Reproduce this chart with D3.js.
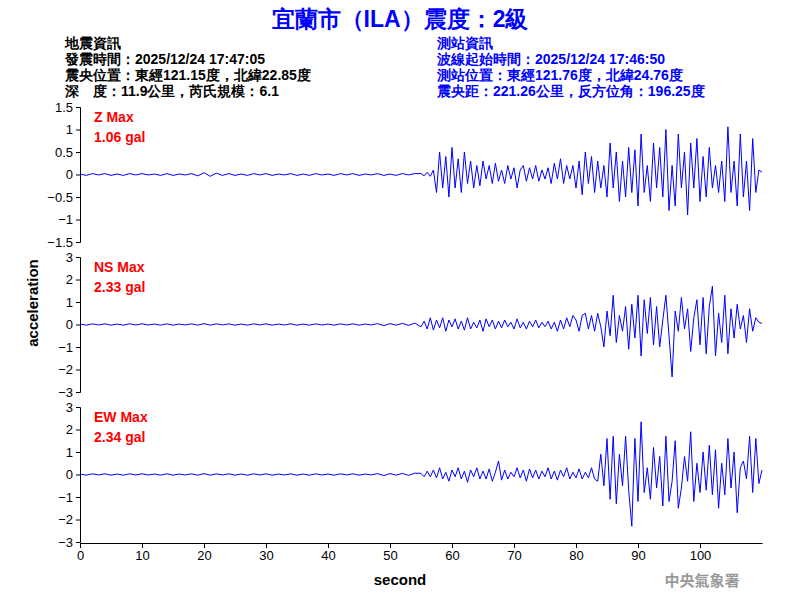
<!DOCTYPE html>
<html><head><meta charset="utf-8">
<script src="https://cdn.jsdelivr.net/npm/d3@7"></script>
<style>body{margin:0;background:#fff}text{font-family:Arial,"Liberation Sans",sans-serif}</style>
</head><body>
<script>
"use strict";
// quiet part: t = 0..54, 1 s step
var zPre = [0.01,-0.02,0.02,-0.01,0.02,-0.02,0.01,-0.02,0.02,-0.01,0.02,-0.01,0.01,-0.02,0.02,-0.02,0.01,-0.01,0.02,-0.03,0.04,-0.04,0.03,-0.02,0.02,-0.02,0.01,-0.02,0.02,-0.01,0.02,-0.02,0.01,-0.01,0.02,-0.02,0.01,-0.02,0.02,-0.01,0.01,-0.02,0.02,-0.01,0.02,-0.02,0.01,-0.01,0.02,-0.02,0.01,-0.02,0.02,-0.01,0.02];
var nsPre = [0.02,-0.03,0.03,-0.02,0.03,-0.03,0.02,-0.03,0.03,-0.02,0.03,-0.02,0.02,-0.03,0.03,-0.03,0.02,-0.02,0.03,-0.03,0.04,-0.03,0.03,-0.02,0.03,-0.03,0.02,-0.03,0.03,-0.02,0.03,-0.03,0.02,-0.02,0.03,-0.03,0.02,-0.03,0.03,-0.02,0.02,-0.03,0.03,-0.02,0.03,-0.03,0.02,-0.02,0.04,-0.05,0.04,-0.03,0.05,-0.04,0.06];
var ewPre = [0.02,-0.03,0.03,-0.02,0.03,-0.03,0.02,-0.03,0.03,-0.02,0.03,-0.02,0.02,-0.03,0.03,-0.03,0.02,-0.02,0.03,-0.03,0.04,-0.03,0.03,-0.02,0.03,-0.03,0.02,-0.03,0.03,-0.02,0.03,-0.03,0.02,-0.02,0.03,-0.03,0.02,-0.03,0.03,-0.02,0.02,-0.03,0.03,-0.02,0.03,-0.03,0.02,-0.02,0.04,-0.05,0.04,-0.03,0.05,-0.04,0.06];
// active part: t = 55..110, 0.5 s step
var zPost = [0.02,-0.03,0.05,-0.04,0.1,-0.4,0.5,-0.3,0.4,-0.5,
  0.6,-0.3,0.35,-0.4,0.5,-0.2,0.3,-0.3,0.2,-0.25,
  0.3,-0.1,0.2,-0.2,0.25,-0.15,0.1,-0.2,0.2,-0.1,
  0.15,-0.3,0.1,0.2,-0.15,0.15,-0.1,0.2,-0.15,0.1,
  -0.1,0.15,-0.2,0.25,-0.1,0.35,-0.2,0.2,-0.1,0.2,
  -0.3,0.3,-0.45,0.5,-0.2,0.4,-0.4,0.3,-0.3,0.2,
  -0.5,0.7,-0.3,0.5,-0.6,0.3,-0.5,0.6,-0.4,0.55,
  -0.7,0.9,-0.4,0.2,-0.6,0.7,-0.3,0.6,-0.5,1.0,
  -0.8,0.2,-0.7,0.9,-0.3,0.5,-0.9,0.7,-0.3,0.8,
  -0.6,0.4,-0.5,0.6,-0.3,0.2,-0.4,0.3,-0.6,1.06,
  -0.4,0.3,-0.7,0.9,-0.5,0.3,-0.8,0.8,-0.4,0.1,
  0.05];
var nsPost = [-0.1,0.15,-0.2,0.3,-0.25,0.2,-0.15,0.3,-0.3,0.2,
  -0.1,0.25,-0.2,0.15,-0.25,0.3,-0.2,0.1,-0.15,0.2,
  -0.3,0.25,-0.1,0.2,-0.2,0.15,-0.15,0.2,-0.1,0.1,
  -0.2,0.25,-0.15,0.1,-0.2,0.15,-0.1,0.2,-0.15,0.1,
  -0.1,0.15,-0.2,0.1,-0.3,0.2,-0.2,0.3,-0.1,0.4,
  0.2,-0.3,0.4,0.5,-0.2,0.4,-0.3,0.5,-0.1,-1.0,
  0.6,-0.5,1.3,-0.8,0.4,-0.3,0.8,-1.1,0.9,-0.6,
  1.3,-1.4,1.1,-0.4,1.2,-0.9,0.8,-1.0,0.2,1.3,
  -0.5,-2.33,0.6,-0.3,1.2,-0.2,0.7,-1.2,0.3,1.1,
  -0.9,1.2,-1.3,0.8,1.7,-1.4,0.5,-0.8,1.3,-1.3,
  0.7,-0.6,0.9,-0.2,0.4,-0.8,0.7,-0.3,0.3,0.1,
  0.05];
var ewPost = [0.05,-0.1,0.15,-0.1,0.2,-0.15,0.3,-0.2,0.1,-0.3,
  0.2,-0.1,0.3,-0.2,0.15,-0.35,0.2,-0.1,0.3,-0.2,
  0.15,-0.2,0.25,-0.3,0.1,0.6,-0.25,0.2,-0.2,0.1,
  -0.1,0.3,-0.15,0.2,-0.3,0.25,-0.15,0.2,-0.2,0.15,
  -0.1,0.3,-0.2,0.15,-0.25,0.2,-0.1,0.3,-0.2,0.1,
  -0.15,0.25,-0.2,0.1,-0.15,0.3,-0.2,-0.3,0.9,-0.5,
  1.6,-1.1,1.7,-1.3,0.9,-0.5,1.7,-0.7,-2.3,1.6,
  -1.2,2.34,-0.8,0.3,-1.1,1.2,-0.6,0.8,-1.4,1.7,
  -1.2,-0.3,1.5,-1.5,-0.6,0.8,-0.3,1.9,-1.2,0.5,
  -0.8,1.0,-0.7,1.3,-0.9,1.1,-1.5,0.5,-0.9,1.6,
  -0.6,1.0,-1.7,0.3,0.6,-0.2,1.7,-0.8,1.6,-0.4,
  0.2];
var panelNames = ["Z Max", "NS Max", "EW Max"];
var panelMax = ["1.06 gal", "2.33 gal", "2.34 gal"];
var zTicks = [-1.5,-1,-0.5,0,0.5,1,1.5];
var hTicks = [-3,-2,-1,0,1,2,3];
var xTicks = [0,10,20,30,40,50,60,70,80,90,100];
var quakeInfo = ["地震資訊","發震時間：2025/12/24 17:47:05","震央位置：東經121.15度，北緯22.85度","深　度：11.9公里，芮氏規模：6.1"];
var stationInfo = ["測站資訊","波線起始時間：2025/12/24 17:46:50","測站位置：東經121.76度，北緯24.76度","震央距：221.26公里，反方位角：196.25度"];

function toPoints(pre, post) {
  var pts = pre.map(function(v, i) { return [i, v]; });
  return pts.concat(post.map(function(v, i) { return [55 + i * 0.5, v]; }));
}

var svg = d3.select("body").append("svg").attr("width", 800).attr("height", 600);
var x = d3.scaleLinear().domain([0, 110]).range([80, 762]);

svg.append("text").attr("x", 400).attr("y", 27).attr("text-anchor", "middle")
  .attr("fill", "#0000ff").style("font-size", "23px").style("font-weight", "bold")
  .text("宜蘭市（ILA）震度：2級");
quakeInfo.forEach(function(t, i) {
  svg.append("text").attr("x", 65).attr("y", 48 + i * 16).style("font-size", "14px")
    .style("font-weight", "bold").text(t);
});
stationInfo.forEach(function(t, i) {
  svg.append("text").attr("x", 437).attr("y", 48 + i * 16).style("font-size", "14px")
    .style("font-weight", "bold").attr("fill", "#0000ff").text(t);
});

var panels = [
  {pts: toPoints(zPre, zPost), dom: [-1.5, 1.5], ticks: zTicks, top: 107},
  {pts: toPoints(nsPre, nsPost), dom: [-3, 3], ticks: hTicks, top: 257},
  {pts: toPoints(ewPre, ewPost), dom: [-3, 3], ticks: hTicks, top: 407}
];
panels.forEach(function(p, k) {
  var y = d3.scaleLinear().domain(p.dom).range([p.top + 135, p.top]);
  svg.append("g").attr("transform", "translate(80,0)")
    .call(d3.axisLeft(y).tickValues(p.ticks).tickSize(4).tickFormat(d3.format("")))
    .call(function(g) {
      g.selectAll("text").style("font-size", "13px").attr("fill", "#000");
      g.select(".domain").attr("stroke", "#000");
    });
  svg.append("path").datum(p.pts)
    .attr("fill", "none").attr("stroke", "#0000ff").attr("stroke-width", 1)
    .attr("d", d3.line().x(function(d) { return x(d[0]); }).y(function(d) { return y(d[1]); }));
  svg.append("text").attr("x", 94).attr("y", p.top + 15).attr("fill", "#ff0000")
    .style("font-size", "14px").style("font-weight", "bold").text(panelNames[k]);
  svg.append("text").attr("x", 94).attr("y", p.top + 35).attr("fill", "#ff0000")
    .style("font-size", "14px").style("font-weight", "bold").text(panelMax[k]);
});

svg.append("g").attr("transform", "translate(0,543)")
  .call(d3.axisBottom(x).tickValues(xTicks).tickSize(5).tickSizeOuter(0))
  .call(function(g) { g.selectAll("text").style("font-size", "13px"); });

svg.append("text").attr("x", 400).attr("y", 585).attr("text-anchor", "middle")
  .style("font-size", "15px").style("font-weight", "bold").text("second");
svg.append("text").attr("transform", "translate(38,303) rotate(-90)").attr("text-anchor", "middle")
  .style("font-size", "15px").style("font-weight", "bold").text("acceleration");
svg.append("text").attr("x", 702).attr("y", 586).attr("text-anchor", "middle")
  .attr("fill", "#999").style("font-size", "15px").style("font-weight", "bold")
  .style("font-family", "'Noto Sans CJK TC'").text("中央氣象署");
</script>
</body></html>
